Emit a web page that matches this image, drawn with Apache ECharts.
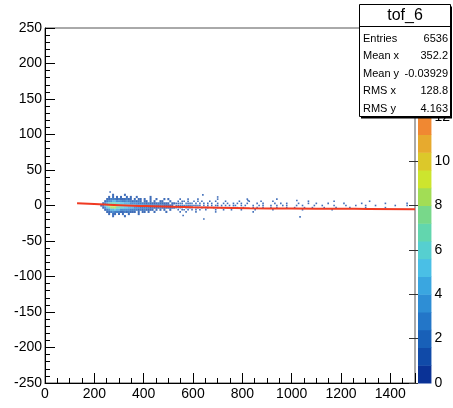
<!DOCTYPE html>
<html>
<head>
<meta charset="utf-8">
<script src="https://cdn.jsdelivr.net/npm/echarts@6/dist/echarts.min.js"></script>
<style>html,body{margin:0;padding:0;background:#fff}#c{width:453px;height:408px}</style>
</head>
<body>
<div id="c"></div>
<script>
// ---- data ----
const xTicks = [0, 200, 400, 600, 800, 1000, 1200, 1400];
const yTicks = [-250, -200, -150, -100, -50, 0, 50, 100, 150, 200, 250];
const zTicks = [0, 2, 4, 6, 8, 10, 12];

// core of the 2D histogram: columns start at x=224, 8 units wide; rows are y bin centres
const coreX0 = 224;
const coreBinX = 8;
const coreRowY = [15, 12, 9, 6, 3, 0, -3, -6, -9, -12, -15];
const coreRows = [
  "......1.....1.........................",
  "....1.1.1.1..1.1..1......1............",
  "...1122212111211.1.11.1..1..1...1.1...",
  "..1233443332232212121.11.1.1..11...1..",
  ".1346777665544433332222121111211111.11",
  "1257899987765554443333222222212211111.",
  ".1356888776655444333222221211121111111",
  "..1234454433333222212121111.1.1.1..1..",
  "...112322211212111.1.11.1..1.....1....",
  "....1.11.1.1..1....1..................",
  "......1.....1........................."
];
// sparse tail: columns start at x=528, 8 units wide
const tailX0 = 528;
const tailBinX = 8;
const tailRowY = [9, 6, 3, 0, -3, -6, -9];
const tailRows = [
  "..1...1....1.........1........" + "......1..............1........" + ".............................." + "................................",
  ".1.11.1..1.1.1...1..1....1...." + "..1....1.....1.....1.........." + ".......1............1........." + "........1.......................",
  "1121.2112.1.1.1.1.1..1..1.1..1" + ".1.1..1....1..1.....1..1..1..." + "..1....1...1.....1.......1...." + "....1...........1..........1....",
  "2122121121121.1.1.1.11.1.1.1.1" + "1..1.1...1..1.1...1..1..1.1..." + ".1..1.....1...1.....1.....1..." + ".1....1....1.........1.....1...",
  "1212.1211.12.1.11..1.1.1..1..1" + ".1..1....1.1..1...1..1....1..." + "1....1...1.....1.....1......1." + "......1.........1...............",
  ".1.11.1.1.1.1..1....1...1...1." + "...1......1........1.........." + "....1..............1.........." + "................................",
  "..1..1....1.........1........." + ".........1...................." + ".............................." + "................................"
];
const outliers = [[640, 15, 1], [644, -19, 1], [823, 7, 1], [1021, 7, 1], [1034, -16, 1], [264, 19, 1], [560, -14, 1], [700, 12, 1]];

// fitted curve
const fitX = [130, 200, 280, 360, 440, 520, 600, 700, 830, 1000, 1200, 1310, 1500];
const fitY = [3.1, 2.0, 0.7, -0.4, -1.1, -1.8, -2.5, -3.2, -3.9, -4.3, -4.6, -4.9, -5.4];

// statistics box
const statTitle = "tof_6";
const statNames = ["Entries", "Mean x", "Mean y", "RMS x", "RMS y"];
const statValues = ["6536", "352.2", "-0.03929", "128.8", "4.163"];

// colour palette (20 contour levels, 0..16)
const zMax = 16;
const palette = ['#0a3296', '#104aa8', '#1860b8', '#2376c8', '#2e8ed5', '#3aa6e0', '#4abfe6', '#56cfd0',
  '#62d6ae', '#78d88a', '#a2dd55', '#cde52e', '#dcc82a', '#e7aa2e', '#f08832', '#f27a30',
  '#f46c2c', '#f45e28', '#f25024', '#ee4020'];

// ---- build ----
function countOf(ch) {
  if (ch === '.') return 0;
  if (ch >= '0' && ch <= '9') return +ch;
  return ch.charCodeAt(0) - 87;
}
function gridCells(x0, bx, rowsY, rows) {
  const out = [];
  rows.forEach((row, r) => {
    for (let j = 0; j < row.length; j++) {
      const c = countOf(row[j]);
      if (c > 0) out.push([x0 + bx * j + bx / 2, rowsY[r], c]);
    }
  });
  return out;
}
const coreCells = gridCells(coreX0, coreBinX, coreRowY, coreRows);
const tailCells = gridCells(tailX0, tailBinX, tailRowY, tailRows).concat(outliers);

const step = zMax / palette.length;
const pieces = palette.map((col, k) => ({ gte: k * step, lt: (k + 1) * step, color: col }));
const barData = palette.map((col, k) => [k * step, (k + 1) * step, k]);

const font = 'Liberation Sans, Arial, Helvetica, sans-serif';
const chart = echarts.init(document.getElementById('c'), null, { renderer: 'canvas' });

const graphics = [
  { type: 'rect', z: 100, shape: { x: 361, y: 6.5, width: 91, height: 112 }, style: { fill: '#000' } },
  { type: 'rect', z: 101, shape: { x: 359.5, y: 4.5, width: 91, height: 112 }, style: { fill: '#fff', stroke: '#000', lineWidth: 1 } },
  { type: 'line', z: 102, shape: { x1: 359.5, y1: 26.5, x2: 450.5, y2: 26.5 }, style: { stroke: '#000', lineWidth: 1 } },
  { type: 'text', z: 102, style: { text: statTitle, x: 405, y: 16, textAlign: 'center', textVerticalAlign: 'middle', font: '16px ' + font, fill: '#000' } }
];
statNames.forEach((n, i) => {
  const y = 38.5 + 17.6 * i;
  graphics.push({ type: 'text', z: 102, style: { text: n, x: 363, y: y, textAlign: 'left', textVerticalAlign: 'middle', font: '11px ' + font, fill: '#000' } });
  graphics.push({ type: 'text', z: 102, style: { text: statValues[i], x: 448, y: y, textAlign: 'right', textVerticalAlign: 'middle', font: '11px ' + font, fill: '#000' } });
});

chart.setOption({
  animation: false,
  backgroundColor: '#fff',
  grid: [
    { left: 45, top: 28, width: 370, height: 355, show: true, borderColor: '#555', borderWidth: 1, backgroundColor: 'transparent' },
    { left: 418, top: 28, width: 21, height: 355 }
  ],
  xAxis: [
    {
      gridIndex: 0, type: 'value', min: 0, max: 1500, interval: 200,
      axisLine: { show: true, onZero: false, lineStyle: { color: '#000', width: 1 } },
      axisTick: { show: true, inside: true, length: 10, lineStyle: { color: '#000' } },
      minorTick: { show: true, splitNumber: 4, length: 5, lineStyle: { color: '#000' } },
      splitLine: { show: false },
      axisLabel: { color: '#000', fontSize: 14, fontFamily: font, margin: 4,
        formatter: v => (xTicks.indexOf(v) >= 0 ? String(v) : '') }
    },
    { gridIndex: 1, type: 'value', min: 0, max: 1, show: false }
  ],
  yAxis: [
    {
      gridIndex: 0, type: 'value', min: -250, max: 250, interval: 50,
      axisLine: { show: true, onZero: false, lineStyle: { color: '#000', width: 1 } },
      axisTick: { show: true, inside: true, length: 10, lineStyle: { color: '#000' } },
      minorTick: { show: true, splitNumber: 5, length: 5, lineStyle: { color: '#000' } },
      splitLine: { show: false },
      axisLabel: { color: '#000', fontSize: 14, fontFamily: font, margin: 3,
        formatter: v => (yTicks.indexOf(v) >= 0 ? String(v) : '') }
    },
    {
      gridIndex: 1, type: 'value', min: 0, max: zMax, interval: 2, position: 'right',
      axisLine: { show: false },
      axisTick: { show: true, inside: true, length: 9, lineStyle: { color: '#333' } },
      splitLine: { show: false },
      axisLabel: { color: '#000', fontSize: 14, fontFamily: font, margin: 3,
        formatter: v => (zTicks.indexOf(v) >= 0 ? String(v) : '') }
    }
  ],
  visualMap: { type: 'piecewise', show: false, dimension: 2, seriesIndex: [0, 1], pieces: pieces },
  series: [
    {
      type: 'scatter', xAxisIndex: 0, yAxisIndex: 0, symbol: 'rect', symbolSize: [2, 2.2],
      data: coreCells, z: 2
    },
    {
      type: 'scatter', xAxisIndex: 0, yAxisIndex: 0, symbol: 'rect', symbolSize: [1.6, 1.6],
      data: tailCells, z: 2
    },
    {
      type: 'line', xAxisIndex: 0, yAxisIndex: 0, data: fitX.map((x, i) => [x, fitY[i]]),
      smooth: true, showSymbol: false, z: 3,
      lineStyle: { color: '#f03a22', width: 2 }
    },
    {
      type: 'custom', xAxisIndex: 1, yAxisIndex: 1, data: barData, z: 1,
      renderItem: function (params, api) {
        const p0 = api.coord([0, api.value(0)]);
        const p1 = api.coord([1, api.value(1)]);
        return { type: 'rect', shape: { x: p0[0], y: p1[1], width: p1[0] - p0[0], height: p0[1] - p1[1] + 0.5 },
          style: { fill: palette[api.value(2)] } };
      }
    }
  ],
  graphic: graphics
});
</script>
</body>
</html>
